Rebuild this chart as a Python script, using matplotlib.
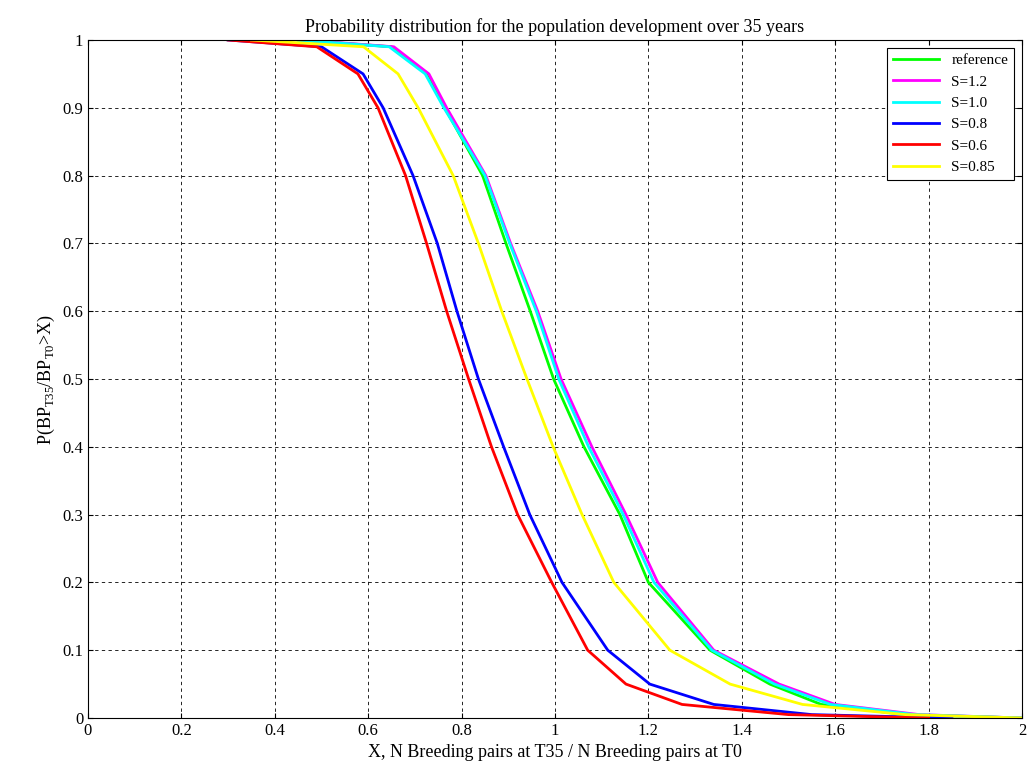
import matplotlib
matplotlib.use("Agg")
import matplotlib.pyplot as plt
import numpy as np

plt.rcParams['font.family'] = ['Liberation Serif', 'DejaVu Serif']
plt.rcParams['mathtext.fontset'] = 'custom'
plt.rcParams['mathtext.rm'] = 'Liberation Serif'

labels = ['reference', 'S=1.2', 'S=1.0', 'S=0.8', 'S=0.6', 'S=0.85']
colors = ['#00ff00', '#ff00ff', '#00ffff', '#0000ff', '#ff0000', '#ffff00']

levels = [1.0, 0.99, 0.95, 0.9, 0.8, 0.7, 0.6, 0.5, 0.4, 0.3, 0.2, 0.1, 0.05, 0.02, 0.005, 0.0]
ref_x  = [0.45, 0.65, 0.728, 0.764, 0.845, 0.895, 0.947, 0.997, 1.062, 1.139, 1.200, 1.332, 1.460, 1.570, 1.75, 2.0]
s12_x  = [0.46, 0.655, 0.73, 0.768, 0.852, 0.905, 0.963, 1.013, 1.079, 1.152, 1.220, 1.340, 1.480, 1.600, 1.78, 2.0]
s10_x  = [0.45, 0.645, 0.722, 0.762, 0.850, 0.903, 0.960, 1.008, 1.072, 1.146, 1.212, 1.336, 1.470, 1.590, 1.77, 2.0]
s08_x  = [0.30, 0.50, 0.589, 0.632, 0.696, 0.748, 0.790, 0.836, 0.890, 0.946, 1.015, 1.113, 1.203, 1.340, 1.55, 1.85]
s06_x  = [0.30, 0.49, 0.578, 0.621, 0.680, 0.725, 0.768, 0.815, 0.864, 0.920, 0.993, 1.070, 1.152, 1.272, 1.50, 1.80]
s085_x = [0.35, 0.59, 0.664, 0.707, 0.782, 0.836, 0.886, 0.940, 0.996, 1.058, 1.126, 1.246, 1.375, 1.530, 1.75, 2.0]

series = [ref_x, s12_x, s10_x, s08_x, s06_x, s085_x]

fig = plt.figure(figsize=(10.32, 7.81), dpi=100)
ax = fig.add_axes([88/1032, 63/781, 934/1032, 678/781])
for i, x in enumerate(series):
    ax.plot(x, levels, color=colors[i], lw=2, label=labels[i])
ax.set_xlim(0, 2)
ax.set_ylim(0, 1)
ax.set_xticks(np.arange(0, 2.01, 0.2))
ax.set_xticklabels(['0', '0.2', '0.4', '0.6', '0.8', '1', '1.2', '1.4', '1.6', '1.8', '2'])
ax.set_yticks(np.arange(0, 1.01, 0.1))
ax.set_yticklabels(['0', '0.1', '0.2', '0.3', '0.4', '0.5', '0.6', '0.7', '0.8', '0.9', '1'])
ax.grid(True, color='k', linestyle=(0, (4, 4)), lw=0.6)
ax.tick_params(direction='in', labelsize=12, top=True, right=True)
ax.set_title('Probability distribution for the population development over 35 years', fontsize=13)
ax.set_xlabel('X, N Breeding pairs at T35 / N Breeding pairs at T0', fontsize=13)
ax.set_ylabel(r'P(BP$_{\mathregular{T35}}$/BP$_{\mathregular{T0}}$>X)', fontsize=13)
leg = ax.legend(loc='upper right', fontsize=11, fancybox=False, edgecolor='k', framealpha=1, handlelength=3)
leg.get_frame().set_linewidth(0.8)
fig.savefig('out.png')
